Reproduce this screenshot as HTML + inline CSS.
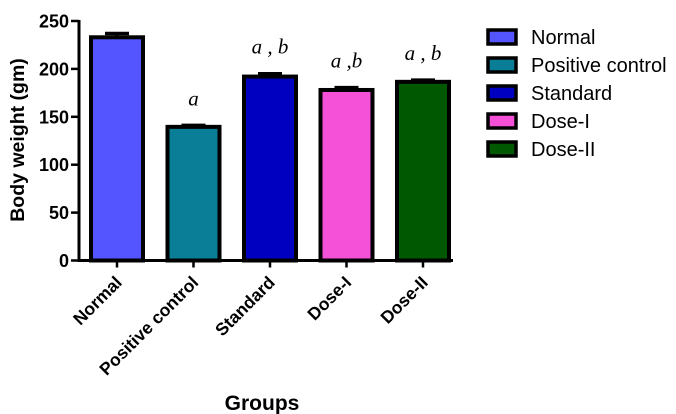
<!DOCTYPE html>
<html><head><meta charset="utf-8"><style>
html,body{margin:0;padding:0;background:#fff;}
svg{display:block;font-family:"Liberation Sans",Arial,sans-serif;}
</style></head><body>
<svg id="chart" width="676" height="414" viewBox="0 0 676 414"></svg>
<script>
const categories = ["Normal","Positive control","Standard","Dose-I","Dose-II"];
const values = [233, 139.5, 192, 178, 186.5];
const errors = [4, 1.5, 3, 2.5, 1.8];
const annotations = ["", "a", "a , b", "a ,b", "a , b"];
const colors = ["#5555FF","#097E96","#0000C0","#F550D8","#005800"];
const yTicks = [0,50,100,150,200,250];

const svg = document.getElementById('chart');
const NS = 'http://www.w3.org/2000/svg';
function mk(tag, attrs, text){
  const e = document.createElementNS(NS, tag);
  for (const k in attrs) e.setAttribute(k, attrs[k]);
  if (text !== undefined) e.textContent = text;
  svg.appendChild(e);
  return e;
}
const y0 = 260.5, yPx = 0.958;
function yScale(v){ return y0 - v * yPx; }
const x0 = 117, step = 76.5, bw = 52;
function xScale(i){ return x0 + i * step; }

categories.forEach((c, i) => {
  const cx = xScale(i), top = yScale(values[i]);
  const cap = yScale(values[i] + errors[i]);
  const eb = mk('line', {x1:cx, x2:cx, y1:top, y2:cap, stroke:'#000','stroke-width':3});
  
  
  const ec = mk('line', {x1:cx-12, x2:cx+12, y1:cap, y2:cap, stroke:'#000','stroke-width':3.5});
  
  
  const r = mk('rect', {x:cx-bw/2, y:top, width:bw, height:y0-top, fill:colors[i], stroke:'#000','stroke-width':4});
  
  
  if (annotations[i]) {
    const t = mk('text', {x:cx, y:cap - 20, 'text-anchor':'middle', 'font-family':'"Liberation Serif",serif', 'font-style':'italic', 'font-size':21}, annotations[i]);
    
    
  }
  const tk = mk('line', {x1:cx, x2:cx, y1:y0, y2:y0+7, stroke:'#000','stroke-width':2.5});
  
  
  const lx = cx + 6, ly = y0 + 23;
  const lb = mk('text', {x:lx, y:ly, 'text-anchor':'end', 'font-weight':'bold', 'font-size':17.5, transform:`rotate(-45 ${lx} ${ly})`}, c);
  
  
});

const ya = mk('line', {x1:79, x2:79, y1:yScale(250)-1, y2:y0+1.5, stroke:'#000','stroke-width':3});


const xa = mk('line', {x1:77.5, x2:453, y1:y0, y2:y0, stroke:'#000','stroke-width':3});


yTicks.forEach(v => {
  const y = yScale(v);
  const t = mk('line', {x1:71, x2:79, y1:y, y2:y, stroke:'#000','stroke-width':2.5});
  
  
  const l = mk('text', {x:69, y:y+6.5, 'text-anchor':'end', 'font-weight':'bold', 'font-size':18}, String(v));
  
  
});
const yt = mk('text', {x:0, y:0, 'text-anchor':'middle', 'font-weight':'bold', 'font-size':19.5, transform:'translate(24 140) rotate(-90)'}, 'Body weight (gm)');


const xt = mk('text', {x:262, y:410, 'text-anchor':'middle', 'font-weight':'bold', 'font-size':21}, 'Groups');



categories.forEach((c, i) => {
  const y = 30 + i * 28;
  const s = mk('rect', {x:488, y:y, width:28, height:14, fill:colors[i], stroke:'#000','stroke-width':3.5});
  
  
  const t = mk('text', {x:531, y:y+14, 'font-size':20}, c);
  
  
});
</script>
</body></html>
